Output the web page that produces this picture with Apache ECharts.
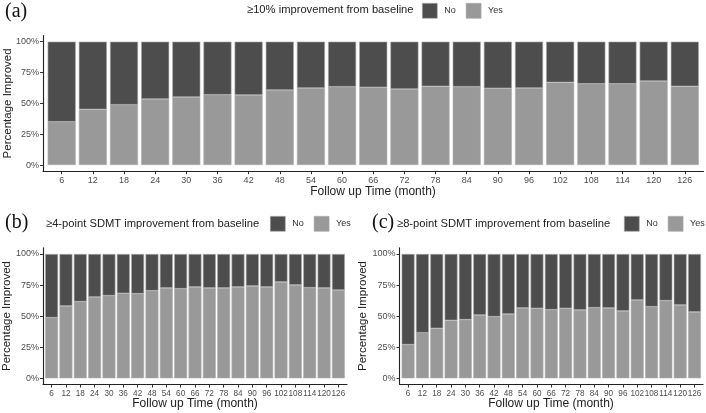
<!DOCTYPE html>
<html>
<head>
<meta charset="utf-8">
<script src="https://cdn.jsdelivr.net/npm/echarts@6/dist/echarts.min.js"></script>
<style>
html,body{margin:0;padding:0;background:#fff;}
#c{width:706px;height:413px;}
</style>
</head>
<body>
<div id="c"></div>
<script>
// ---- data ----
const months = [6,12,18,24,30,36,42,48,54,60,66,72,78,84,90,96,102,108,114,120,126];
const yesA = [35.1,45.1,48.9,53.5,55.1,57.0,56.8,60.8,62.4,63.5,63.0,61.6,63.8,63.5,62.2,62.4,67.0,65.9,65.9,68.1,63.8];
const yesB = [48.8,58.2,61.7,65.4,66.5,68.4,68.1,70.5,72.7,72.1,73.5,72.7,72.7,73.5,74.3,73.5,77.5,75.1,72.9,72.7,71.0];
const yesC = [27.1,36.7,40.2,46.6,47.2,50.9,49.6,51.7,56.6,56.3,55.2,56.3,55.0,56.8,56.6,54.2,63.0,57.6,62.5,59.0,53.4];
const yTicks = [0,25,50,75,100];
const panelTitles = ['≥10% improvement from baseline','≥4-point SDMT improvement from baseline','≥8-point SDMT improvement from baseline'];
const panelTags = ['(a)','(b)','(c)'];
const legendNames = ['No','Yes'];
const xTitle = 'Follow up Time (month)';
const yTitle = 'Percentage Improved';

const yesSets = [yesA, yesB, yesC];
const idx = months.map((m,i)=>i+1);

const grids = [
  {left:43, top:35.5, width:660.5, height:135.7},
  {left:43, top:247.8, width:304, height:136.7},
  {left:399.5, top:247.8, width:303.6, height:136.7}
];

const tickColor = '#4d4d4d';
const font = 'Liberation Sans, Arial, sans-serif';

const option = {
  animation:false,
  backgroundColor:'#fff',
  title: [],
  legend: [],
  grid: grids.map(g=>Object.assign({containLabel:false}, g)),
  xAxis: [], yAxis: [], series: []
};

const titlePos = [
  {tag:{left:5, top:2}, t:{left:247, top:4}, lg:{left:422, top:3}, xt:[373,192], yt:[8,103.4], xfs:9},
  {tag:{left:5, top:213}, t:{left:46, top:218}, lg:{left:270, top:216}, xt:[195,404], yt:[7,316], xfs:8.2},
  {tag:{left:372, top:213}, t:{left:397, top:218}, lg:{left:624, top:216}, xt:[551,404], yt:[363,316], xfs:8.2}
];

const graphics = [];

for (let p=0;p<3;p++){
  const tp = titlePos[p];
  option.title.push({text:panelTags[p], left:tp.tag.left, top:tp.tag.top, padding:0,
    textStyle:{fontFamily:'Liberation Serif, Times New Roman, serif', fontSize:20, fontWeight:'normal', color:'#111'}});
  option.title.push({text:panelTitles[p], left:tp.t.left, top:tp.t.top, padding:0,
    textStyle:{fontFamily:font, fontSize:11.2, fontWeight:'normal', color:'#222'}});
  option.legend.push({
    data:legendNames, left:tp.lg.left, top:tp.lg.top, padding:0, itemGap:10,
    itemWidth:15, itemHeight:15, icon:'rect', selectedMode:false,
    textStyle:{fontFamily:font, fontSize:9, color:'#333', padding:[0,0,0,2]},
    itemStyle:{borderColor:'#aaaaaa', borderWidth:0.6}
  });
  option.xAxis.push({
    type:'value', gridIndex:p, min:0.4, max:months.length+0.6,
    splitLine:{show:false},
    axisLine:{show:true, onZero:false, lineStyle:{color:'#222', width:1.1}},
    axisTick:{show:true, customValues:idx, length:3, lineStyle:{color:'#333'}},
    axisLabel:{show:true, customValues:idx, formatter:v=>String(months[Math.round(v)-1]),
      showMinLabel:true, showMaxLabel:true, hideOverlap:false,
      fontFamily:font, fontSize:tp.xfs, color:tickColor, margin:5}
  });
  option.yAxis.push({
    type:'value', gridIndex:p, min:-5, max:105,
    splitLine:{show:false},
    axisLine:{show:true, onZero:false, lineStyle:{color:'#222', width:1.1}},
    axisTick:{show:true, customValues:yTicks, length:3, lineStyle:{color:'#333'}},
    axisLabel:{show:true, customValues:yTicks, formatter:v=>v+'%',
      fontFamily:font, fontSize:9, color:tickColor, margin:4}
  });
  const yes = yesSets[p];
  option.series.push({
    name:'Yes', type:'bar', xAxisIndex:p, yAxisIndex:p, stack:'s'+p, barWidth:'90%',
    encode:{x:1, y:0},
    data: yes.map((v,i)=>[v, i+1]),
    itemStyle:{color:'#999999', borderColor:'#b0b0b0', borderWidth:0.6}
  });
  option.series.push({
    name:'No', type:'bar', xAxisIndex:p, yAxisIndex:p, stack:'s'+p, barWidth:'90%',
    encode:{x:1, y:0},
    data: yes.map((v,i)=>[+(100-v).toFixed(1), i+1]),
    itemStyle:{color:'#4d4d4d', borderColor:'#aaaaaa', borderWidth:0.6}
  });
  graphics.push({type:'text', x:tp.xt[0], y:tp.xt[1],
    style:{text:xTitle, fontFamily:font, fontSize:12, fill:'#222', align:'center', verticalAlign:'middle'}});
  graphics.push({type:'text', x:tp.yt[0], y:tp.yt[1], rotation:Math.PI/2,
    style:{text:yTitle, fontFamily:font, fontSize:11.5, fill:'#222', align:'center', verticalAlign:'middle'}});
}
option.graphic = graphics;

const chart = echarts.init(document.getElementById('c'), null, {renderer:'canvas'});
chart.setOption(option);
</script>
</body>
</html>
